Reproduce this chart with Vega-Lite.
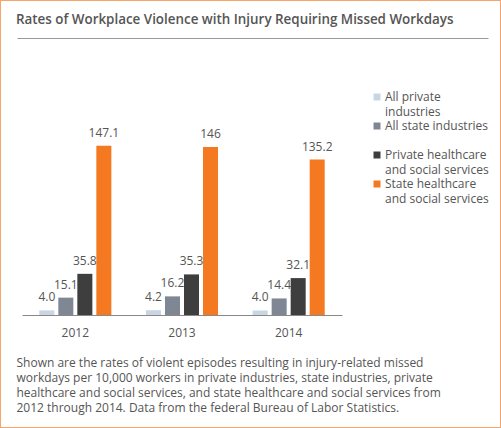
{
  "$schema": "https://vega.github.io/schema/vega-lite/v6.json",
  "width": 501,
  "height": 428,
  "autosize": {"type": "none"},
  "padding": 0,
  "background": "white",
  "title": {
    "text": "Rates of Workplace Violence with Injury Requiring Missed Workdays",
    "anchor": "start",
    "dx": 16,
    "offset": -26,
    "font": "Open Sans",
    "fontSize": 13.4,
    "fontWeight": 600,
    "color": "#555555"
  },
  "data": {
    "values": [
      {"year": "2012", "series": "All private industries", "value": 4.0, "label": "4.0"},
      {"year": "2012", "series": "All state industries", "value": 15.1, "label": "15.1"},
      {"year": "2012", "series": "Private healthcare and social services", "value": 35.8, "label": "35.8"},
      {"year": "2012", "series": "State healthcare and social services", "value": 147.1, "label": "147.1"},
      {"year": "2013", "series": "All private industries", "value": 4.2, "label": "4.2"},
      {"year": "2013", "series": "All state industries", "value": 16.2, "label": "16.2"},
      {"year": "2013", "series": "Private healthcare and social services", "value": 35.3, "label": "35.3"},
      {"year": "2013", "series": "State healthcare and social services", "value": 146, "label": "146"},
      {"year": "2014", "series": "All private industries", "value": 4.0, "label": "4.0"},
      {"year": "2014", "series": "All state industries", "value": 14.4, "label": "14.4"},
      {"year": "2014", "series": "Private healthcare and social services", "value": 32.1, "label": "32.1"},
      {"year": "2014", "series": "State healthcare and social services", "value": 135.2, "label": "135.2"}
    ]
  },
  "layer": [
    {
      "encoding": {
        "x": {
          "field": "year",
          "type": "nominal",
          "scale": {"range": [22, 342], "paddingInner": 0, "paddingOuter": 0},
          "axis": {
            "orient": "bottom",
            "offset": -113,
            "domainColor": "#888888",
            "domainWidth": 1,
            "ticks": false,
            "labelAngle": 0,
            "labelPadding": 12,
            "labelFont": "Open Sans",
            "labelFontSize": 12,
            "labelColor": "#555555",
            "title": [
              "Shown are the rates of violent episodes resulting in injury-related missed",
              "workdays per 10,000 workers in private industries, state industries, private",
              "healthcare and social services, and state healthcare and social services from",
              "2012 through 2014. Data from the federal Bureau of Labor Statistics."
            ],
            "titleX": 16,
            "titleY": 42,
            "titleAlign": "left",
            "titleBaseline": "top",
            "titleAngle": 0,
            "titleFont": "Open Sans",
            "titleFontSize": 12,
            "titleFontWeight": "normal",
            "titleColor": "#555555",
            "titleLineHeight": 15.3
          }
        },
        "xOffset": {
          "field": "series",
          "type": "nominal",
          "sort": ["All private industries", "All state industries", "Private healthcare and social services", "State healthcare and social services"],
          "scale": {"paddingInner": 0.21, "paddingOuter": 0.91}
        },
        "y": {
          "field": "value",
          "type": "quantitative",
          "scale": {"domain": [0, 160], "range": [315, 131]},
          "axis": null
        }
      },
      "layer": [
        {
          "mark": {"type": "bar"},
          "encoding": {
            "color": {
              "field": "series",
              "type": "nominal",
              "scale": {
                "domain": ["All private industries", "All state industries", "Private healthcare and social services", "State healthcare and social services"],
                "range": ["#c8d6e4", "#7f8795", "#3e3e3e", "#f47920"]
              },
              "legend": {
                "orient": "none",
                "legendX": 371,
                "legendY": 91,
                "padding": 0,
                "title": null,
                "symbolType": "square",
                "symbolSize": 49,
                "symbolStrokeWidth": 0,
                "labelFont": "Open Sans",
                "labelFontSize": 12,
                "labelColor": "#555555",
                "labelOffset": 2,
                "labelLimit": 200,
                "gridAlign": "all",
                "rowPadding": 2,
                "labelExpr": "datum.label == 'All private industries' ? ['All private', 'industries'] : datum.label == 'Private healthcare and social services' ? ['Private healthcare', 'and social services'] : datum.label == 'State healthcare and social services' ? ['State healthcare', 'and social services'] : datum.label"
              }
            }
          }
        },
        {
          "mark": {"type": "text", "baseline": "bottom", "dy": -6, "font": "Open Sans", "fontSize": 12, "color": "#555555"},
          "encoding": {"text": {"field": "label"}}
        }
      ]
    },
    {
      "data": {"values": [{"u": 0}]},
      "mark": {"type": "rule", "opacity": 0},
      "encoding": {
        "x": {
          "field": "u",
          "type": "quantitative",
          "scale": {"domain": [0, 1], "range": [17, 488]},
          "axis": {
            "orient": "top",
            "offset": -38,
            "labels": false,
            "ticks": false,
            "grid": false,
            "title": null,
            "domainColor": "#999999",
            "domainWidth": 1
          }
        }
      }
    }
  ],
  "resolve": {"scale": {"x": "independent"}, "axis": {"x": "independent"}},
  "config": {
    "view": {"stroke": "#f5a46c", "strokeWidth": 2},
    "style": {"guide-label": {"lineHeight": 15}}
  }
}
